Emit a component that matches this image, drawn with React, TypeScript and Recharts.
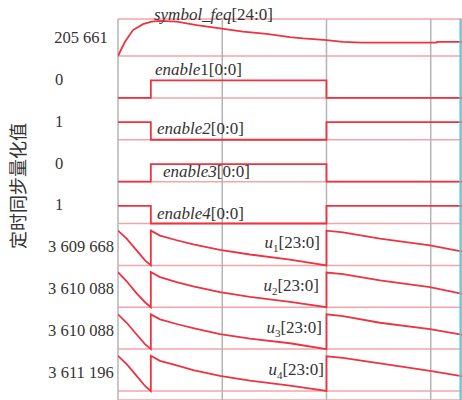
import { CartesianGrid, Line, LineChart, ReferenceDot, ReferenceLine, XAxis, YAxis } from 'recharts';

// time axis (arbitrary sample units), grid marks and cursor
const timeEnd = 3300;
const gridTimes = [0, 1000, 2000, 3000];
const cursorTime = 3285;

// symbol_feq[24:0], normalised height within its row
const symbolFeqTime = [0, 29, 67, 144, 240, 323, 403, 563, 755, 978, 1199, 1427, 1650, 1775, 2002, 2158, 2338, 3057, 3060, 3300];
const symbolFeqLevel = [0, 0.15, 0.34, 0.62, 0.76, 0.82, 0.84, 0.82, 0.74, 0.66, 0.58, 0.53, 0.45, 0.42, 0.38, 0.34, 0.32, 0.32, 0.34, 0.34];

// enable bits, switching at the same instants
const enableTime = [0, 315, 2000, 3300];
const enable1Bits = [0, 1, 0, 0];
const enable2Bits = [1, 0, 1, 1];
const enable3Bits = [0, 1, 0, 0];
const enable4Bits = [1, 0, 1, 1];

// u1..u4[23:0] sawtooth
const uTime = [0, 83, 179, 259, 315, 315, 403, 563, 722, 978, 1266, 1650, 2000, 2000, 2158, 2513, 2993, 3281, 3300];
const u1Level = [0.83, 0.64, 0.36, 0.12, 0, 0.83, 0.71, 0.6, 0.5, 0.37, 0.26, 0.14, 0, 0.83, 0.79, 0.64, 0.48, 0.34, 0.33];
const u2Level = [0.84, 0.62, 0.33, 0.12, 0, 0.84, 0.72, 0.6, 0.5, 0.36, 0.25, 0.13, 0, 0.83, 0.79, 0.64, 0.48, 0.33, 0.32];
const u3Level = [0.83, 0.63, 0.35, 0.12, 0, 0.83, 0.71, 0.6, 0.5, 0.36, 0.25, 0.14, 0, 0.83, 0.79, 0.63, 0.48, 0.35, 0.34];
const u4Level = [0.84, 0.64, 0.36, 0.12, 0, 0.84, 0.72, 0.61, 0.5, 0.36, 0.25, 0.13, 0, 0.83, 0.79, 0.66, 0.48, 0.36, 0.35];

// value column on the left, top row first
const rowValues = ['205 661', '0', '1', '0', '1', '3 609 668', '3 610 088', '3 610 088', '3 611 196'];
const axisTitle = '定时同步量化值';

const RED = '#ee3340';
const PINK = '#f5a5aa';
const GREY = '#b4b4b4';
const CYAN = '#5ccbdc';
const SERIF = "'Liberation Serif', serif";

const LOGIC_HIGH = 0.42;
const Y_DOMAIN: [number, number] = [-0.215, 8.884];

type Row = {
  key: string;
  time: number[];
  level: number[];
  gain: number;
  step: boolean;
  // label layout: offset inside row, anchor
  label: { t: number; dv: number; anchor: 'start' | 'end'; italic: string; sub?: string; rest: string };
};

const rows: Row[] = [
  { key: 'symbol', time: symbolFeqTime, level: symbolFeqLevel, gain: 1, step: false,
    label: { t: 345, dv: 0.86, anchor: 'start', italic: 'symbol_feq', rest: '[24:0]' } },
  { key: 'en1', time: enableTime, level: enable1Bits, gain: LOGIC_HIGH, step: true,
    label: { t: 355, dv: 0.55, anchor: 'start', italic: 'enable', rest: '1[0:0]' } },
  { key: 'en2', time: enableTime, level: enable2Bits, gain: LOGIC_HIGH, step: true,
    label: { t: 374, dv: 0.14, anchor: 'start', italic: 'enable2', rest: '[0:0]' } },
  { key: 'en3', time: enableTime, level: enable3Bits, gain: LOGIC_HIGH, step: true,
    label: { t: 432, dv: 0.11, anchor: 'start', italic: 'enable3', rest: '[0:0]' } },
  { key: 'en4', time: enableTime, level: enable4Bits, gain: LOGIC_HIGH, step: true,
    label: { t: 374, dv: 0.11, anchor: 'start', italic: 'enable4', rest: '[0:0]' } },
  { key: 'u1', time: uTime, level: u1Level, gain: 1, step: false,
    label: { t: 1938, dv: 0.42, anchor: 'end', italic: 'u', sub: '1', rest: '[23:0]' } },
  { key: 'u2', time: uTime, level: u2Level, gain: 1, step: false,
    label: { t: 1928, dv: 0.39, anchor: 'end', italic: 'u', sub: '2', rest: '[23:0]' } },
  { key: 'u3', time: uTime, level: u3Level, gain: 1, step: false,
    label: { t: 1957, dv: 0.39, anchor: 'end', italic: 'u', sub: '3', rest: '[23:0]' } },
  { key: 'u4', time: uTime, level: u4Level, gain: 1, step: false,
    label: { t: 1976, dv: 0.38, anchor: 'end', italic: 'u', sub: '4', rest: '[23:0]' } },
];

const rowCount = rows.length;
// row base in axis units: top row sits highest
const rowBase = (i: number) => rowCount - 1 - i;
const baselineTicks = rows.map((_, i) => rowBase(i)).reverse();
const valueTicks = baselineTicks.map((b) => b + 0.45);

const seriesData = rows.map((row, i) =>
  row.time.map((t, j) => ({ t, y: rowBase(i) + row.level[j] * row.gain }))
);

const ValueTick = (props: any) => {
  const { y, payload, index } = props;
  const idx = rowCount - 1 - Math.round(payload.value - 0.45);
  const text = rowValues[idx];
  const cx = text.length > 1 ? 81 : 59;
  return (
    <g>
      <text
        x={cx}
        y={y}
        dy="0.35em"
        textAnchor="middle"
        style={{ fontFamily: SERIF, fontSize: 16.5 }}
        fill="#333"
      >
        {text}
      </text>
      {index === 0 && (
        <text
          x={17}
          y={186}
          transform="rotate(-90, 17, 186)"
          textAnchor="middle"
          dominantBaseline="central"
          style={{ fontFamily: "'Noto Sans CJK SC', sans-serif", fontSize: 18 }}
          fill="#333"
        >
          {axisTitle}
        </text>
      )}
    </g>
  );
};

const signalLabel = (row: Row) => (p: any) => {
  const l = row.label;
  return (
    <text
      x={p.cx}
      y={p.cy}
      textAnchor={l.anchor}
      style={{ fontFamily: SERIF, fontSize: 17 }}
      fill="#333"
    >
      <tspan style={{ fontStyle: 'italic' }}>{l.italic}</tspan>
      {l.sub && (
        <tspan dy={4} style={{ fontSize: 11 }}>
          {l.sub}
        </tspan>
      )}
      <tspan dy={l.sub ? -4 : 0}>{l.rest}</tspan>
    </text>
  );
};

export default function App() {
  return (
    <div style={{ position: 'absolute', left: 0, top: 0, width: 462, height: 400, background: '#fff' }}>
      <LineChart width={462} height={400} margin={{ top: 19, right: 0, bottom: 0, left: 0 }}>
        <XAxis type="number" dataKey="t" domain={[0, timeEnd]} ticks={gridTimes} hide allowDataOverflow />
        <YAxis
          yAxisId="values"
          type="number"
          domain={Y_DOMAIN}
          ticks={valueTicks}
          interval={0}
          width={118}
          axisLine={false}
          tickLine={false}
          tick={<ValueTick />}
          allowDataOverflow
        />
        <YAxis yAxisId="rows" type="number" domain={Y_DOMAIN} ticks={baselineTicks} hide allowDataOverflow />
        <CartesianGrid yAxisId="rows" vertical={false} stroke={PINK} strokeWidth={1.5} />
        <CartesianGrid yAxisId="rows" horizontal={false} stroke={GREY} strokeWidth={1.5} />
        {rows.map((row, i) => (
          <Line
            key={row.key}
            yAxisId="rows"
            data={seriesData[i]}
            dataKey="y"
            type={row.step ? 'stepAfter' : 'linear'}
            stroke={RED}
            strokeWidth={1.8}
            dot={false}
            activeDot={false}
            isAnimationActive={false}
          />
        ))}
        <ReferenceLine yAxisId="rows" x={cursorTime} stroke={CYAN} strokeWidth={2} />
        {rows.map((row, i) => (
          <ReferenceDot
            key={`lbl-${row.key}`}
            yAxisId="rows"
            x={row.label.t}
            y={rowBase(i) + row.label.dv}
            r={0}
            ifOverflow="visible"
            shape={signalLabel(row)}
          />
        ))}
      </LineChart>
    </div>
  );
}
